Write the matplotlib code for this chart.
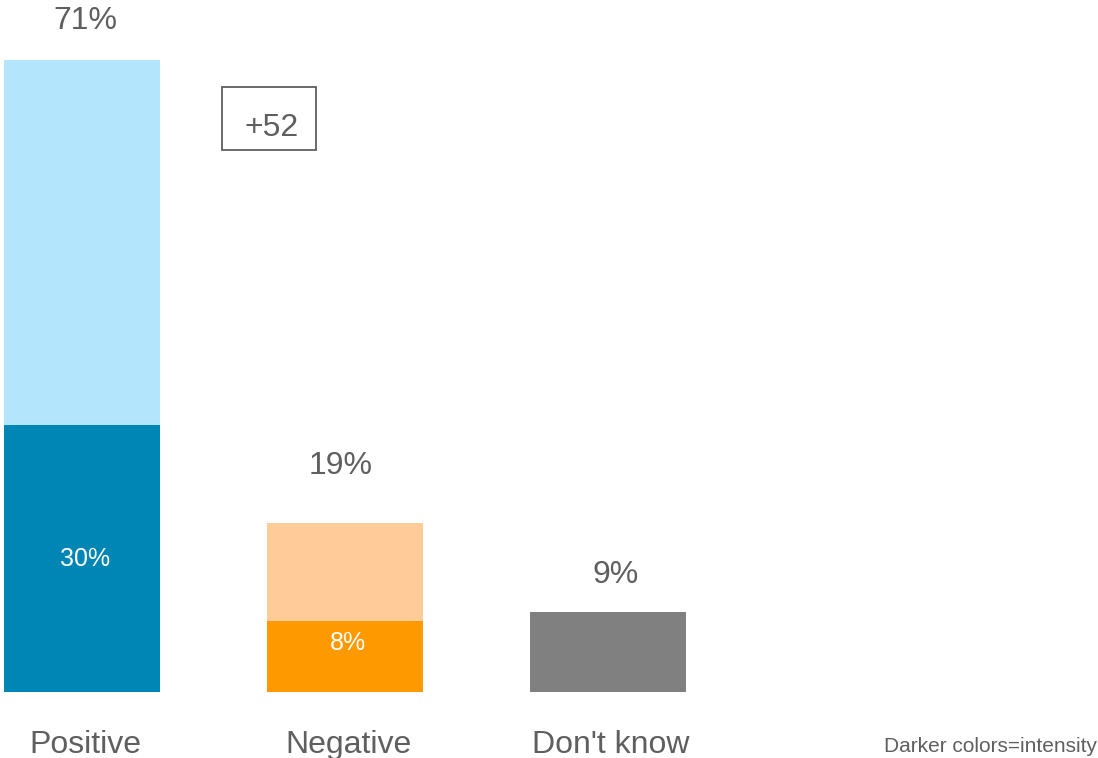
import matplotlib
matplotlib.use("Agg")
import matplotlib.pyplot as plt
from matplotlib.patches import Rectangle

plt.rcParams['font.family'] = ['Liberation Sans', 'DejaVu Sans']

categories = ['Positive', 'Negative', "Don't know"]
totals = [71, 19, 9]
intense = [30, 8, None]
light_colors = ['#B3E5FC', '#FFCC99', '#808080']
dark_colors = ['#0086B5', '#FF9900', None]
net_label = '+52'
note = 'Darker colors=intensity'

# label nudges (pixels) to follow the original layout
total_dx = [3, -4, 8]
total_dy = [39, 57, 37]

text_gray = '#5f5f5f'
W, H = 1098, 758
px = 8.9  # pixels per percent

fig = plt.figure(figsize=(W / 100, H / 100), dpi=100)
ax = fig.add_axes([0, 66 / H, 1, 692 / H])
ax.set_xlim(-82 / 263, (W - 82) / 263)
ax.set_ylim(0, 692 / px)
ax.axis('off')

w = 156 / 263
xs = range(len(categories))
ax.bar(xs, totals, width=w, color=light_colors)
for i, v in enumerate(intense):
    if v is None:
        continue
    ax.bar(i, v, width=w, color=dark_colors[i])
    y = v / 2 - 0.1 if v > 15 else v - 2.5
    ax.text(i + 3 / 263, y, '%d%%' % v, ha='center', va='center',
            fontsize=18, color='white')

for i, t in enumerate(totals):
    ax.text(i + total_dx[i] / 263, t + total_dy[i] / px, '%d%%' % t,
            ha='center', va='center', fontsize=23, color=text_gray)

for i, c in enumerate(categories):
    fig.text((82 + 263 * i + 3) / W, 1 - 745 / H, c, ha='center', va='center',
             fontsize=23, color=text_gray)

fig.patches.append(Rectangle((222 / W, 1 - 150 / H), 94 / W, 63 / H,
                             transform=fig.transFigure, fill=False,
                             ec=text_gray, lw=1.3))
fig.text(272 / W, 1 - 128 / H, net_label, ha='center', va='center',
         fontsize=23, color=text_gray)

fig.text(1097 / W, 1 - 746 / H, note, ha='right', va='center',
         fontsize=15, color=text_gray)

fig.savefig('out.png', dpi=100)
